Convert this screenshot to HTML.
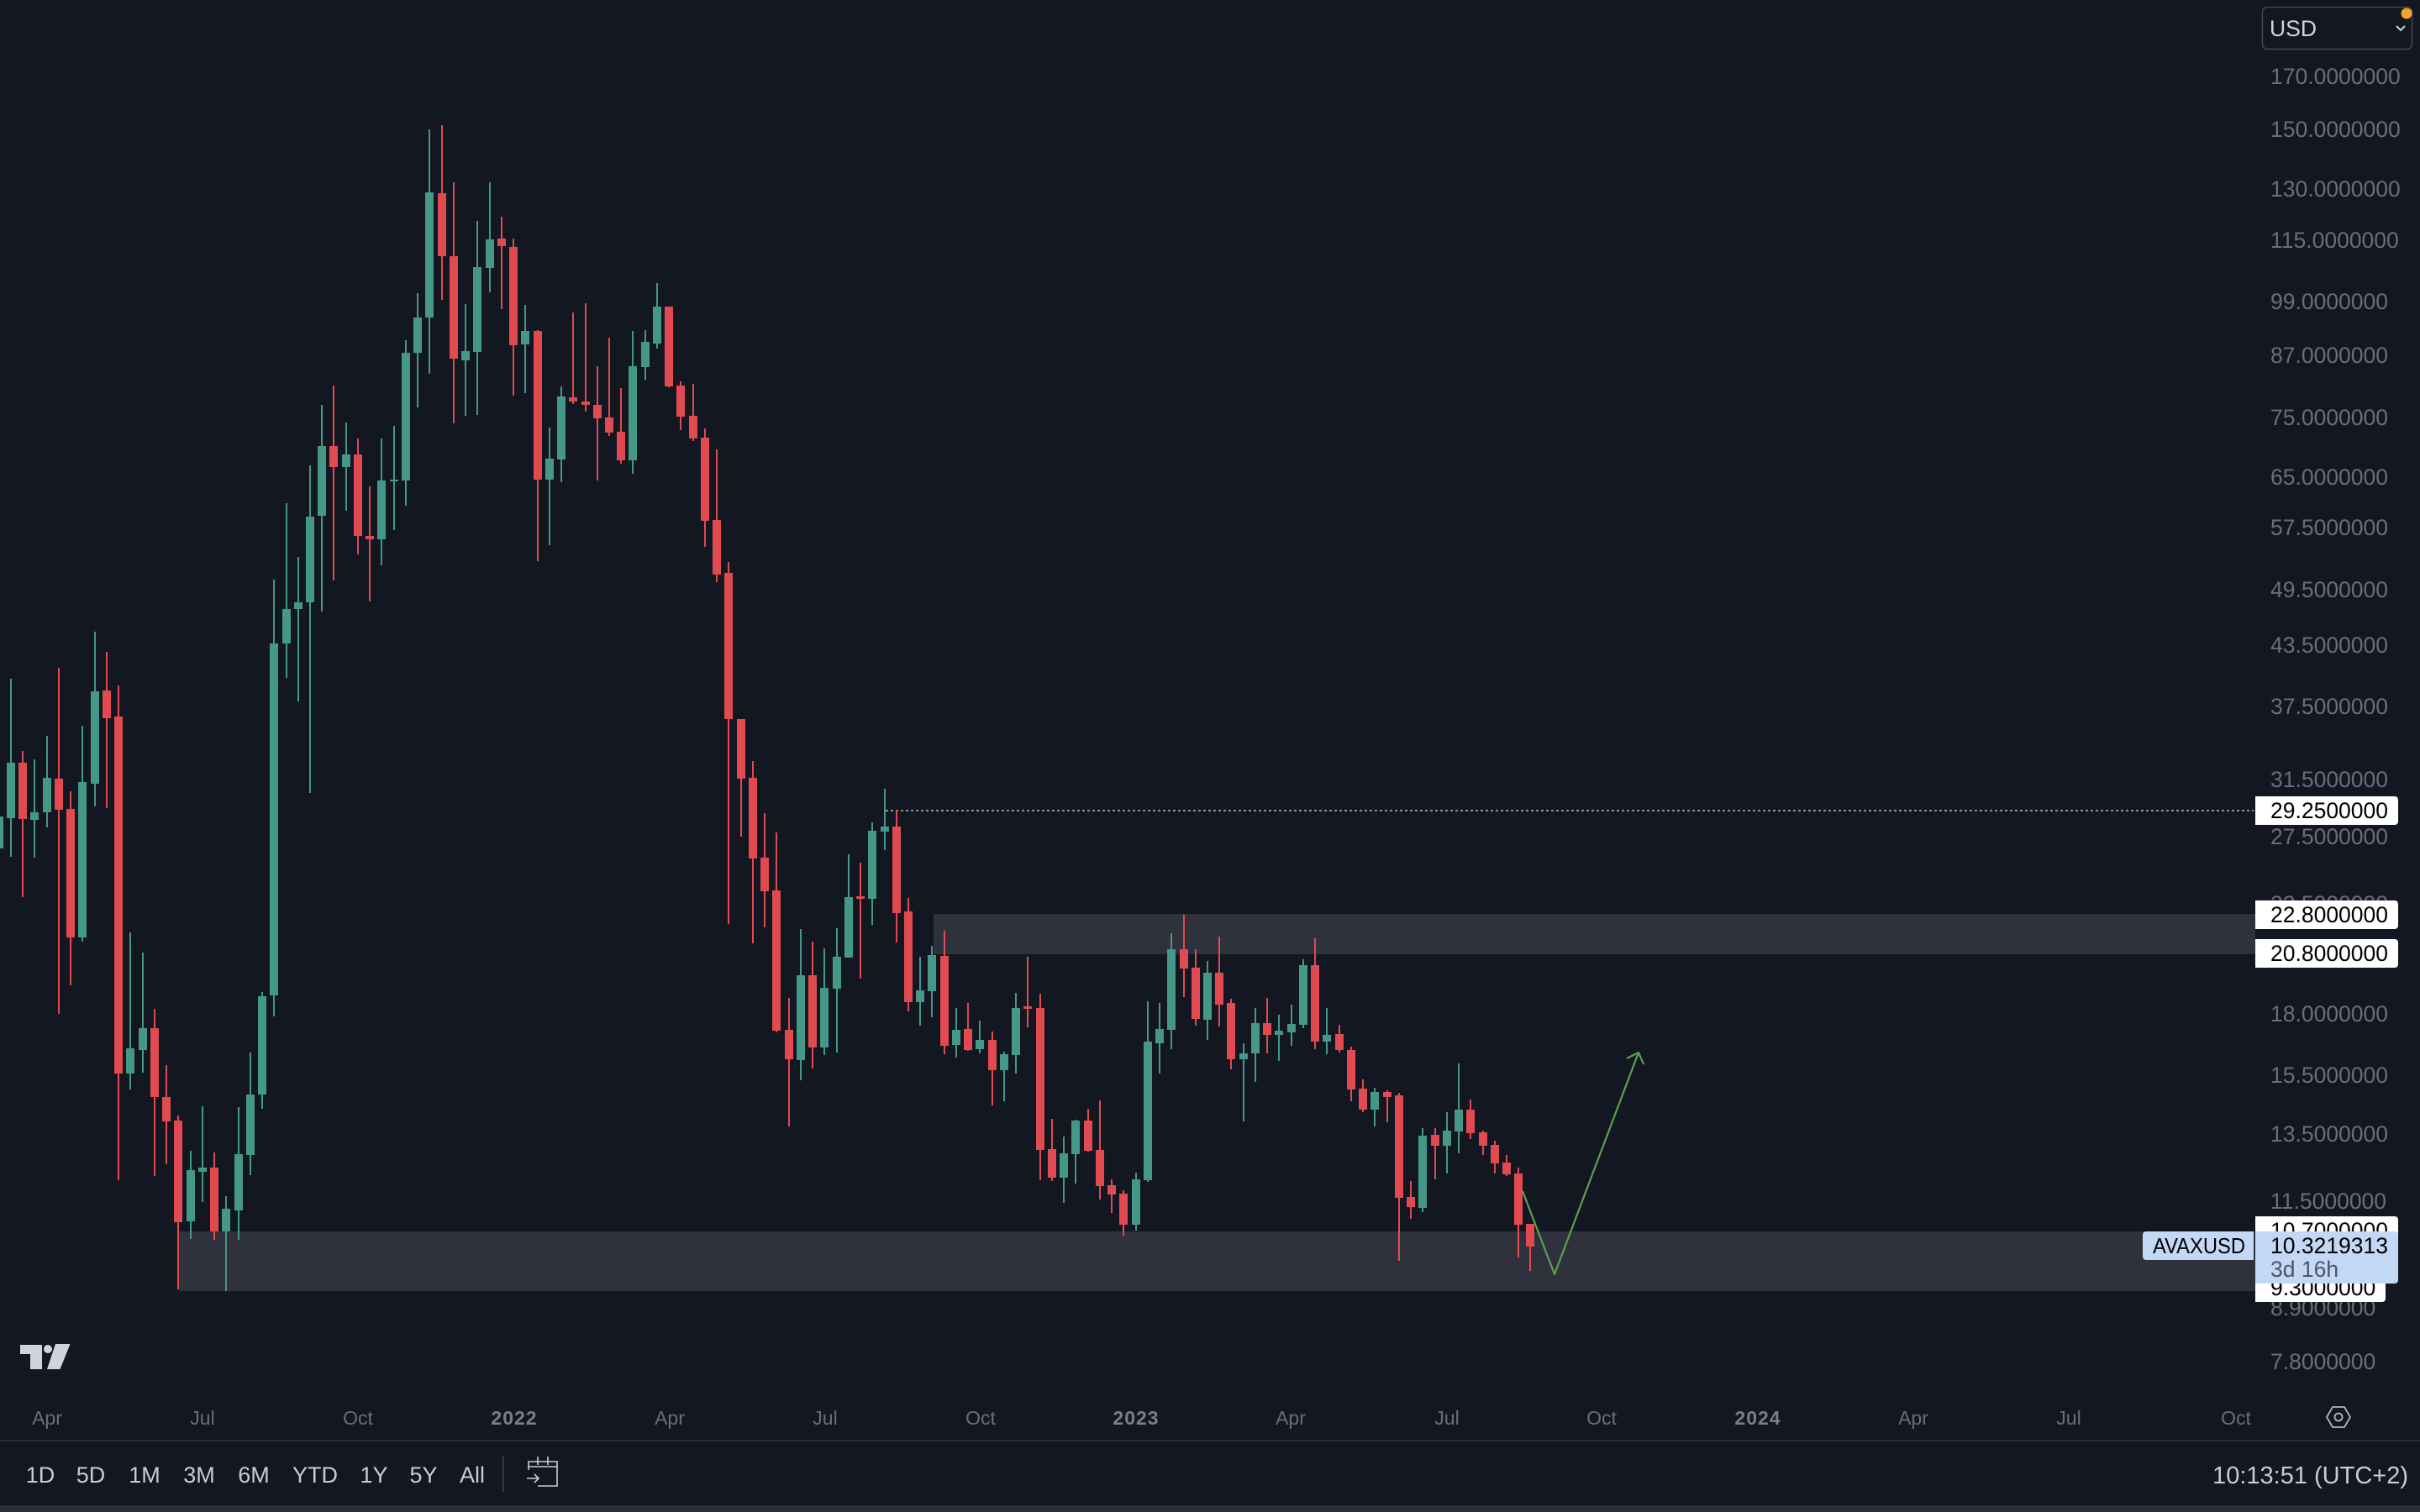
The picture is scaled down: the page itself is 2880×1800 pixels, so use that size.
<!DOCTYPE html>
<html><head><meta charset="utf-8"><style>
html,body{margin:0;padding:0;background:#131722;width:2880px;height:1800px;overflow:hidden}
svg{display:block}
text{font-family:"Liberation Sans",sans-serif}
</style></head><body>
<svg width="2880" height="1800" viewBox="0 0 2880 1800" xmlns="http://www.w3.org/2000/svg">
<rect x="0" y="0" width="2880" height="1800" fill="#131722"/>
<!-- zones -->
<rect x="1111" y="1088" width="1573" height="48" fill="#2f323c"/>
<rect x="213" y="1466" width="2471" height="71" fill="#2f323c"/>
<!-- dotted line -->
<line x1="1054" y1="965" x2="2682" y2="965" stroke="#8f929b" stroke-width="2" stroke-dasharray="3 3"/>
<!-- green wicks -->
<path stroke="#459887" stroke-width="2" fill="none" d="M-1 955V1030 M13 808V1020 M41 904V1021 M56 876V985 M98 864V1121 M113 752V960 M155 1110V1297 M170 1134V1277 M227 1370V1475 M241 1317V1431 M269 1424V1537 M284 1318V1476 M298 1253V1399 M312 1181V1320 M326 690V1210 M341 599V807 M355 663V835 M369 554V944 M383 482V728 M412 503V608 M454 522V673 M469 507V631 M483 405V602 M497 349V485 M511 154V445 M554 362V495 M568 263V494 M583 217V348 M625 363V468 M654 509V649 M668 460V574 M753 394V564 M768 393V452 M782 337V415 M953 1106V1286 M981 1129V1256 M996 1105V1253 M1010 1017V1140 M1038 979V1101 M1053 939V1012 M1095 1139V1221 M1109 1126V1211 M1138 1200V1259 M1166 1215V1254 M1195 1252V1311 M1209 1182V1278 M1266 1353V1432 M1280 1333V1409 M1352 1396V1465 M1366 1192V1407 M1380 1194V1278 M1394 1111V1249 M1437 1144V1238 M1480 1242V1335 M1494 1200V1288 M1522 1208V1263 M1537 1196V1245 M1551 1142V1224 M1579 1200V1255 M1636 1295V1341 M1693 1343V1443 M1722 1324V1397 M1736 1266V1373"/>
<!-- green bodies -->
<path fill="#459887" d="M-6 972h10V1010h-10z M8 908h10V974h-10z M36 967h10V976h-10z M51 926h10V967h-10z M93 931h10V1116h-10z M108 823h10V933h-10z M150 1248h10V1278h-10z M165 1224h10V1250h-10z M222 1393h10V1454h-10z M236 1390h10V1395h-10z M264 1439h10V1466h-10z M279 1374h10V1441h-10z M293 1303h10V1375h-10z M307 1186h10V1303h-10z M321 766h10V1185h-10z M336 725h10V766h-10z M350 717h10V725h-10z M364 615h10V717h-10z M378 531h10V614h-10z M407 541h10V556h-10z M449 572h10V642h-10z M464 571h10V573h-10z M478 420h10V572h-10z M492 378h10V420h-10z M506 229h10V378h-10z M549 418h10V429h-10z M563 318h10V419h-10z M578 285h10V319h-10z M620 394h10V410h-10z M649 546h10V571h-10z M663 472h10V547h-10z M748 436h10V548h-10z M763 407h10V437h-10z M777 365h10V409h-10z M948 1161h10V1262h-10z M976 1176h10V1247h-10z M991 1139h10V1177h-10z M1005 1068h10V1140h-10z M1033 989h10V1070h-10z M1048 984h10V990h-10z M1090 1179h10V1193h-10z M1104 1137h10V1180h-10z M1133 1226h10V1244h-10z M1161 1238h10V1249h-10z M1190 1255h10V1274h-10z M1204 1200h10V1256h-10z M1261 1373h10V1402h-10z M1275 1334h10V1374h-10z M1347 1404h10V1458h-10z M1361 1240h10V1405h-10z M1375 1225h10V1242h-10z M1389 1130h10V1226h-10z M1432 1158h10V1214h-10z M1475 1254h10V1261h-10z M1489 1218h10V1254h-10z M1517 1227h10V1232h-10z M1532 1219h10V1229h-10z M1546 1149h10V1220h-10z M1574 1232h10V1240h-10z M1631 1300h10V1321h-10z M1688 1352h10V1438h-10z M1717 1346h10V1364h-10z M1731 1321h10V1347h-10z"/>
<!-- red wicks -->
<path stroke="#e04a50" stroke-width="2" fill="none" d="M27 894V1068 M70 795V1207 M84 942V1173 M127 776V962 M141 816V1405 M184 1201V1400 M198 1268V1386 M212 1328V1535 M255 1372V1476 M397 459V691 M426 522V660 M440 579V716 M526 149V357 M540 217V504 M597 258V368 M611 284V471 M640 393V668 M682 372V481 M697 361V490 M711 436V572 M725 402V519 M739 462V552 M796 365V461 M810 454V512 M825 457V525 M839 510V651 M853 535V693 M867 669V1100 M882 856V996 M896 906V1123 M910 968V1104 M924 991V1229 M939 1188V1341 M967 1121V1272 M1024 1027V1165 M1067 964V1122 M1081 1069V1204 M1124 1108V1255 M1152 1194V1251 M1181 1228V1316 M1223 1139V1223 M1238 1183V1405 M1252 1332V1406 M1295 1320V1371 M1309 1310V1428 M1323 1404V1444 M1337 1417V1471 M1409 1089V1187 M1423 1130V1221 M1451 1115V1222 M1465 1189V1273 M1508 1188V1254 M1565 1117V1249 M1594 1220V1253 M1608 1246V1311 M1622 1285V1324 M1651 1298V1336 M1665 1301V1501 M1679 1406V1451 M1708 1343V1404 M1750 1309V1356 M1765 1346V1375 M1779 1358V1397 M1793 1375V1400 M1807 1390V1497 M1821 1457V1513"/>
<!-- red bodies -->
<path fill="#e04a50" d="M22 908h10V975h-10z M65 927h10V964h-10z M79 963h10V1116h-10z M122 822h10V855h-10z M136 853h10V1278h-10z M179 1224h10V1306h-10z M193 1306h10V1335h-10z M207 1334h10V1455h-10z M250 1390h10V1466h-10z M392 531h10V556h-10z M421 541h10V638h-10z M435 638h10V642h-10z M521 230h10V305h-10z M535 305h10V427h-10z M592 284h10V293h-10z M606 294h10V411h-10z M635 394h10V571h-10z M677 473h10V478h-10z M692 478h10V482h-10z M706 482h10V498h-10z M720 497h10V515h-10z M734 514h10V548h-10z M791 365h10V460h-10z M805 459h10V496h-10z M820 495h10V522h-10z M834 521h10V620h-10z M848 619h10V684h-10z M862 682h10V856h-10z M877 856h10V927h-10z M891 926h10V1022h-10z M905 1021h10V1061h-10z M919 1060h10V1227h-10z M934 1226h10V1261h-10z M962 1161h10V1247h-10z M1019 1067h10V1070h-10z M1062 984h10V1087h-10z M1076 1085h10V1193h-10z M1119 1138h10V1245h-10z M1147 1225h10V1250h-10z M1176 1238h10V1274h-10z M1218 1198h10V1201h-10z M1233 1200h10V1369h-10z M1247 1368h10V1402h-10z M1290 1334h10V1370h-10z M1304 1369h10V1412h-10z M1318 1411h10V1422h-10z M1332 1421h10V1458h-10z M1404 1130h10V1153h-10z M1418 1152h10V1213h-10z M1446 1158h10V1196h-10z M1460 1194h10V1261h-10z M1503 1218h10V1232h-10z M1560 1149h10V1240h-10z M1589 1231h10V1250h-10z M1603 1250h10V1297h-10z M1617 1296h10V1321h-10z M1646 1300h10V1306h-10z M1660 1304h10V1426h-10z M1674 1425h10V1437h-10z M1703 1351h10V1364h-10z M1745 1321h10V1349h-10z M1760 1348h10V1364h-10z M1774 1363h10V1385h-10z M1788 1384h10V1398h-10z M1802 1397h10V1458h-10z M1816 1457h10V1484h-10z"/>
<!-- projection arrow -->
<polyline points="1812,1418 1850,1517 1950,1253" fill="none" stroke="#5ba150" stroke-width="2.2" stroke-linejoin="round"/>
<polyline points="1936,1260 1950,1253 1956,1267" fill="none" stroke="#5ba150" stroke-width="2.2" stroke-linejoin="round"/>

<!-- price axis labels -->
<g font-size="26.5" fill="#6b6e79">
<text x="2702" y="100">170.0000000</text>
<text x="2702" y="163">150.0000000</text>
<text x="2702" y="234">130.0000000</text>
<text x="2702" y="295">115.0000000</text>
<text x="2702" y="368">99.0000000</text>
<text x="2702" y="432">87.0000000</text>
<text x="2702" y="506">75.0000000</text>
<text x="2702" y="577">65.0000000</text>
<text x="2702" y="637">57.5000000</text>
<text x="2702" y="711">49.5000000</text>
<text x="2702" y="777">43.5000000</text>
<text x="2702" y="850">37.5000000</text>
<text x="2702" y="937">31.5000000</text>
<text x="2702" y="1005">27.5000000</text>
<text x="2702" y="1085">23.5000000</text>
<text x="2702" y="1216">18.0000000</text>
<text x="2702" y="1289">15.5000000</text>
<text x="2702" y="1359">13.5000000</text>
<text x="2702" y="1439">11.5000000</text>
<text x="2702" y="1566">8.9000000</text>
<text x="2702" y="1630">7.8000000</text>
</g>
<!-- price boxes -->
<path d="M2684 948H2850a4 4 0 0 1 4 4V978a4 4 0 0 1 -4 4H2684z" fill="#ffffff"/>
<text x="2702" y="974" font-size="26.5" fill="#000">29.2500000</text>
<path d="M2684 1072H2850a4 4 0 0 1 4 4V1102a4 4 0 0 1 -4 4H2684z" fill="#ffffff"/>
<text x="2702" y="1098" font-size="26.5" fill="#000">22.8000000</text>
<path d="M2684 1118H2850a4 4 0 0 1 4 4V1148a4 4 0 0 1 -4 4H2684z" fill="#ffffff"/>
<text x="2702" y="1144" font-size="26.5" fill="#000">20.8000000</text>
<path d="M2684 1448H2850a4 4 0 0 1 4 4V1478a4 4 0 0 1 -4 4H2684z" fill="#ffffff"/>
<text x="2702" y="1474" font-size="26.5" fill="#000">10.7000000</text>
<path d="M2684 1516H2835a4 4 0 0 1 4 4V1546a4 4 0 0 1 -4 4H2684z" fill="#ffffff"/>
<text x="2702" y="1542" font-size="26.5" fill="#000">9.3000000</text>
<!-- current price -->
<path d="M2684 1466H2850a4 4 0 0 1 4 4V1524a4 4 0 0 1 -4 4H2684z" fill="#c3d8f5"/>
<text x="2702" y="1492" font-size="26.5" fill="#000">10.3219313</text>
<text x="2702" y="1520" font-size="26.5" fill="#4e5566">3d 16h</text>
<path d="M2554 1466H2682V1500H2554a4 4 0 0 1 -4 -4V1470a4 4 0 0 1 4 -4z" fill="#c3d8f5"/>
<text x="2562" y="1492" font-size="26" fill="#000" textLength="110" lengthAdjust="spacingAndGlyphs">AVAXUSD</text>

<!-- USD box -->
<rect x="2692.5" y="8.5" width="178" height="50" rx="6" fill="none" stroke="#434651" stroke-width="1.5"/>
<text x="2701" y="43" font-size="26.5" fill="#d1d4dc">USD</text>
<polyline points="2852,31 2857,36 2862,31" fill="none" stroke="#d1d4dc" stroke-width="2"/>
<circle cx="2864" cy="16" r="6.5" fill="#f5a12f"/>

<!-- time axis -->
<g font-size="23" fill="#6b6e79" text-anchor="middle">
<text x="56" y="1696">Apr</text>
<text x="241" y="1696">Jul</text>
<text x="426" y="1696">Oct</text>
<text x="612" y="1696" font-weight="bold" fill="#7b7e89" letter-spacing="1">2022</text>
<text x="797" y="1696">Apr</text>
<text x="982" y="1696">Jul</text>
<text x="1167" y="1696">Oct</text>
<text x="1352" y="1696" font-weight="bold" fill="#7b7e89" letter-spacing="1">2023</text>
<text x="1536" y="1696">Apr</text>
<text x="1722" y="1696">Jul</text>
<text x="1906" y="1696">Oct</text>
<text x="2092" y="1696" font-weight="bold" fill="#7b7e89" letter-spacing="1">2024</text>
<text x="2277" y="1696">Apr</text>
<text x="2462" y="1696">Jul</text>
<text x="2661" y="1696">Oct</text>
</g>
<polygon points="2769,1687 2776,1675 2790,1675 2797,1687 2790,1699 2776,1699" fill="none" stroke="#b2b5be" stroke-width="1.8"/>
<circle cx="2783" cy="1687" r="4.5" fill="none" stroke="#b2b5be" stroke-width="1.8"/>

<!-- TV logo -->
<g fill="#d1d4dc">
<path d="M24 1601H50V1630H36V1612H24z"/>
<circle cx="57" cy="1606" r="5"/>
<path d="M66 1600H83.5L71.5 1630H56z"/>
</g>

<!-- bottom toolbar -->
<rect x="0" y="1714" width="2880" height="2" fill="#2a2e39"/>
<g font-size="27" fill="#c9ccd4" text-anchor="middle">
<text x="48" y="1765">1D</text>
<text x="108" y="1765">5D</text>
<text x="172" y="1765">1M</text>
<text x="237" y="1765">3M</text>
<text x="302" y="1765">6M</text>
<text x="375" y="1765">YTD</text>
<text x="445" y="1765">1Y</text>
<text x="504" y="1765">5Y</text>
<text x="562" y="1765">All</text>
</g>
<rect x="598" y="1733" width="1.5" height="43" fill="#434651"/>
<g fill="none" stroke="#c9ccd4" stroke-width="1.6">
<path d="M629 1750V1740H663V1769H640"/>
<path d="M629 1746H663"/>
<path d="M640 1734V1744M652 1734V1744"/>
<path d="M627 1760H641M636 1755L641 1760L636 1765"/>
</g>
<text x="2866" y="1766" font-size="29" fill="#c9ccd4" text-anchor="end">10:13:51 (UTC+2)</text>
<rect x="0" y="1792" width="2880" height="8" fill="#2a2e39"/>
</svg>
</body></html>
